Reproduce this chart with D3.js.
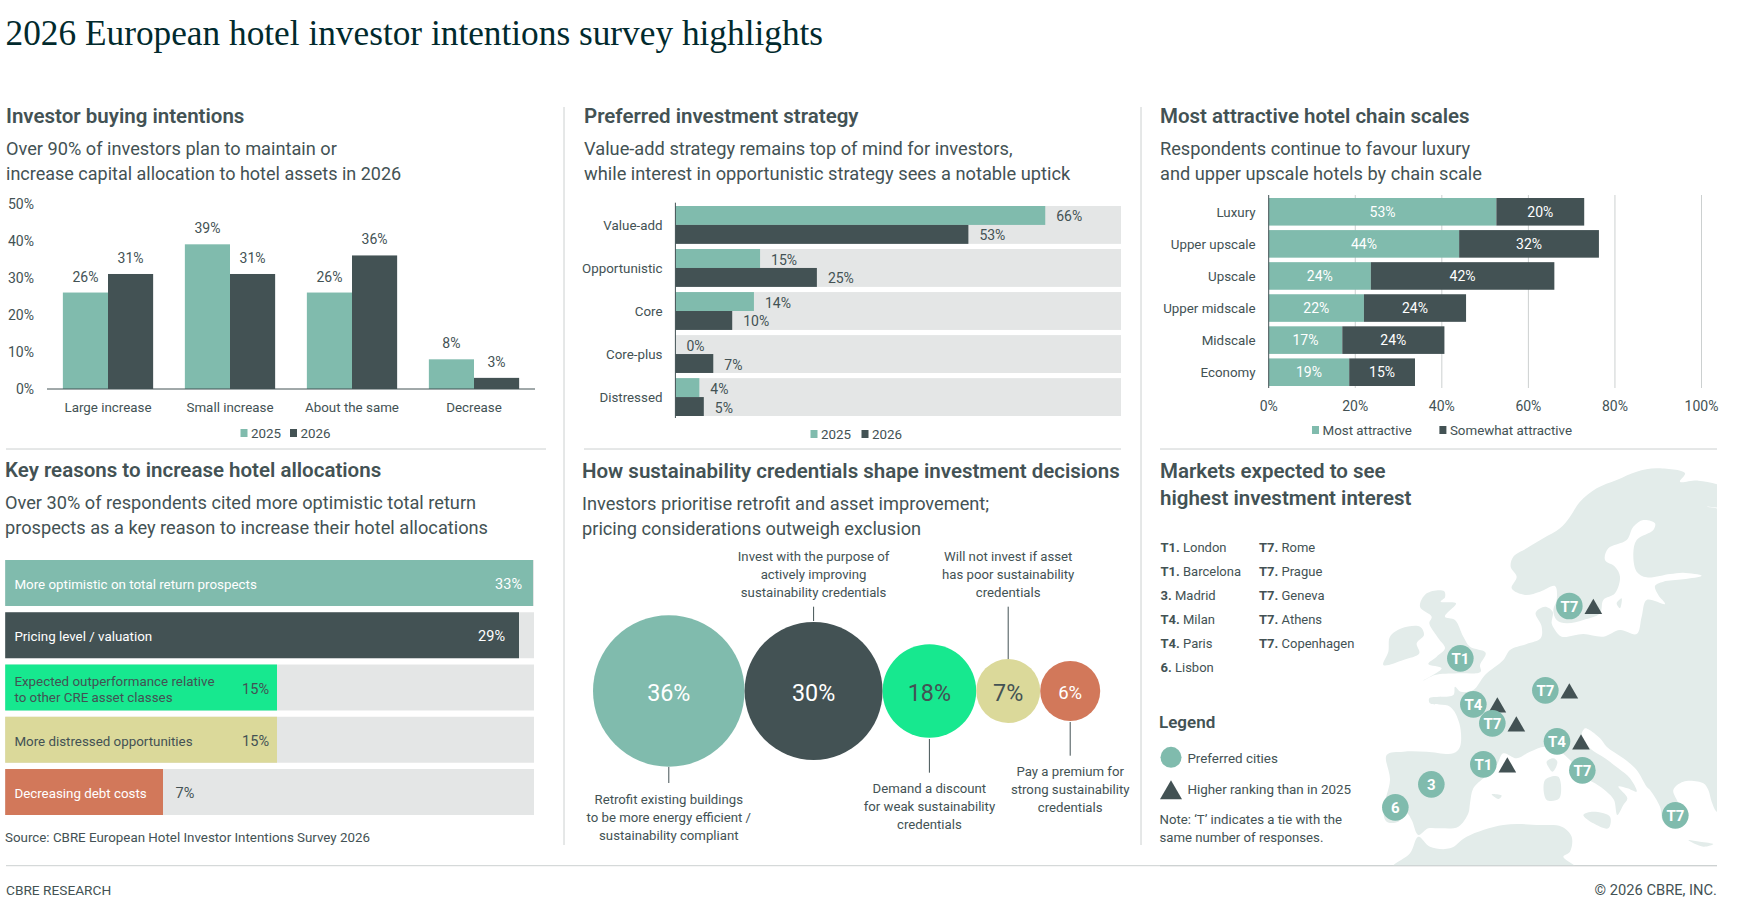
<!DOCTYPE html>
<html>
<head>
<meta charset="utf-8"/>
<script src="https://cdn.jsdelivr.net/npm/d3@7"></script>
<style>
  html, body { margin: 0; padding: 0; background: #fff; }
  svg { display: block; }
  text { font-family: Roboto, sans-serif; fill: #435254; }
</style>
</head>
<body>
<svg id="page" width="1737" height="903"></svg>
<script>
// values
var years = ["2025", "2026"];
var buyCats = ["Large increase", "Small increase", "About the same", "Decrease"];
var buy2025 = [26, 39, 26, 8];
var buy2026 = [31, 31, 36, 3];
var buyTicks = [0, 10, 20, 30, 40, 50];

var stratCats = ["Value-add", "Opportunistic", "Core", "Core-plus", "Distressed"];
var strat2025 = [66.4, 15.2, 14.1, 0, 4.3];
var strat2026 = [52.6, 25.4, 10.2, 6.8, 5.1];

var chainCats = ["Luxury", "Upper upscale", "Upscale", "Upper midscale", "Midscale", "Economy"];
var chainMost = [52.6, 44, 23.6, 22, 17, 18.6];
var chainSome = [20.3, 32.3, 42.4, 23.6, 23.6, 15.2];
var chainTicks = [0, 20, 40, 60, 80, 100];
var chainKeys = ["Most attractive", "Somewhat attractive"];

var reasonLabels = [["More optimistic on total return prospects"], ["Pricing level / valuation"],
  ["Expected outperformance relative", "to other CRE asset classes"], ["More distressed opportunities"], ["Decreasing debt costs"]];
var reasonValues = [33, 29, 15, 15, 7];

var sustValues = [36, 30, 18, 7, 6];
var sustLabels = [
  ["Retrofit existing buildings", "to be more energy efficient /", "sustainability compliant"],
  ["Invest with the purpose of", "actively improving", "sustainability credentials"],
  ["Demand a discount", "for weak sustainability", "credentials"],
  ["Will not invest if asset", "has poor sustainability", "credentials"],
  ["Pay a premium for", "strong sustainability", "credentials"]];

var rankCol1 = [["T1.", "London"], ["T1.", "Barcelona"], ["3.", "Madrid"], ["T4.", "Milan"], ["T4.", "Paris"], ["6.", "Lisbon"]];
var rankCol2 = [["T7.", "Rome"], ["T7.", "Prague"], ["T7.", "Geneva"], ["T7.", "Athens"], ["T7.", "Copenhagen"]];

// map, in map grid units
var mapMainland = [[1060,85],[1060,140],[1012,140],[1060,158],[1060,1060],[1040,1055],[1025,1025],[1015,990],[1000,970],[940,965],[910,990],[925,1030],[935,1070],[910,1100],[880,1085],[870,1040],[840,990],[830,980],[800,930],[760,895],[710,860],[690,835],[655,808],[645,805],[635,825],[660,865],[705,895],[745,925],[780,955],[800,995],[772,985],[745,980],[772,1015],[760,1035],[742,1065],[732,1020],[710,995],[675,970],[640,950],[600,900],[570,875],[525,860],[480,875],[440,895],[400,880],[380,915],[345,950],[310,985],[300,1030],[295,1060],[265,1100],[210,1105],[175,1105],[145,1125],[125,1080],[110,1060],[85,1085],[50,1085],[40,1050],[60,960],[50,885],[100,875],[170,875],[250,880],[270,860],[268,790],[240,740],[180,730],[178,715],[250,705],[255,680],[272,695],[310,690],[345,645],[400,600],[420,570],[470,552],[512,535],[515,500],[497,458],[525,440],[548,455],[545,490],[555,510],[575,530],[640,522],[700,530],[750,510],[800,522],[815,470],[830,420],[885,432],[865,405],[855,378],[880,365],[940,358],[995,347],[940,338],[900,342],[830,352],[800,335],[790,280],[800,240],[850,210],[855,190],[820,180],[790,200],[770,240],[715,265],[705,300],[735,320],[750,350],[735,400],[700,420],[690,460],[640,480],[590,490],[560,480],[550,450],[560,420],[555,378],[510,395],[465,405],[425,385],[440,350],[422,320],[430,290],[470,265],[520,235],[570,205],[600,170],[630,125],[680,85],[740,60],[800,35],[860,25],[945,40],[930,65],[985,62]];
var mapBritain = [[170,400],[222,393],[225,412],[212,425],[258,430],[225,470],[255,480],[280,530],[300,560],[347,578],[330,615],[332,635],[262,640],[195,645],[160,662],[215,625],[175,612],[200,590],[225,565],[205,535],[178,490],[185,470],[150,440]];
var mapIreland = [[60,530],[95,505],[150,500],[162,525],[140,550],[148,580],[100,600],[40,615],[55,575]];
var mapAfrica = [[65,1225],[120,1180],[145,1130],[180,1160],[240,1165],[290,1130],[400,1095],[510,1095],[575,1100],[605,1130],[600,1175],[580,1190],[620,1225]];
var mapIslands = [
  [[530,905],[550,895],[562,905],[548,935],[535,920]],
  [[525,960],[565,950],[568,1015],[530,1020]],
  [[640,1065],[670,1055],[720,1070],[715,1105],[670,1090]],
  [[365,1003],[395,1007],[385,1017]],
  [[955,1140],[990,1145],[1030,1152],[1000,1160]],
  [[740,430],[755,415],[750,445]]];
var mapPins = [
  {label: "T7", x: 598, y: 438, up: true},
  {label: "T1", x: 271, y: 595, up: false},
  {label: "T4", x: 310, y: 733, up: true},
  {label: "T7", x: 367, y: 790, up: true},
  {label: "T7", x: 526, y: 691, up: true},
  {label: "T4", x: 561, y: 844, up: true},
  {label: "T7", x: 637, y: 931, up: false},
  {label: "T1", x: 340, y: 913, up: true},
  {label: "3", x: 184, y: 973, up: false},
  {label: "6", x: 76, y: 1042, up: false},
  {label: "T7", x: 916, y: 1066, up: false}];

var teal = "#80bbad", dark = "#435254", green = "#17e88f", wheat = "#dbd99a", clay = "#d2785a";
var track = "#e4e6e6", rule = "#ccd0d0", land = "#e3ecea";
var small = 13.35, num = 14;

var svg = d3.select("#page");

function txt(x, y, s, size, anchor, color, weight) {
  return svg.append("text").attr("x", x).attr("y", y).text(s)
    .style("font-size", size + "px")
    .attr("text-anchor", anchor || "start")
    .style("fill", color || dark)
    .style("font-weight", weight || 400);
}
function hline(x1, x2, y, color) {
  svg.append("line").attr("x1", x1).attr("x2", x2).attr("y1", y).attr("y2", y).attr("stroke", color || rule);
}
function vline(x, y1, y2, color) {
  svg.append("line").attr("x1", x).attr("x2", x).attr("y1", y1).attr("y2", y2).attr("stroke", color || rule);
}
function heading(x, y, s) { return txt(x, y, s, 20.5, "start", dark, 600); }
function legend(y, items) {
  items.forEach(function(d) {
    svg.append("rect").attr("x", d.x).attr("y", y - 4).attr("width", 7).attr("height", 8).attr("fill", d.color);
    txt(d.x + 10.5, y + 5, d.label, small);
  });
}

// title and frame
txt(5.5, 45, "2026 European hotel investor intentions survey highlights", 35.3, "start", "#012a2d")
  .style("font-family", "'Liberation Serif', serif");
vline(564, 107, 845);
vline(1141, 107, 845);
hline(6, 546, 449);
hline(584, 1121, 449);
hline(1160, 1717, 449);
hline(6, 1717, 865.7);
txt(6, 895, "CBRE RESEARCH", 13.7);
txt(1717, 895, "© 2026 CBRE, INC.", 14.7, "end");

// Investor buying intentions
heading(6, 122.7, "Investor buying intentions");
txt(6, 155, "Over 90% of investors plan to maintain or", 18.2);
txt(6, 180, "increase capital allocation to hotel assets in 2026", 18);

var buyX = d3.scaleBand().domain(buyCats).range([47, 535]).paddingInner(0.26).paddingOuter(0.13);
var buyY = d3.scaleLinear().domain([0, 50]).range([389, 203.5]);
var buySub = d3.scaleBand().domain(years).range([0, buyX.bandwidth()]);

var buyG = svg.append("g").selectAll("g").data(buyCats).join("g")
  .attr("transform", function(d) { return "translate(" + buyX(d) + ",0)"; });
[[buy2025, teal, "2025"], [buy2026, dark, "2026"]].forEach(function(s) {
  buyG.append("rect")
    .attr("x", buySub(s[2])).attr("width", buySub.bandwidth())
    .attr("y", function(d, i) { return buyY(s[0][i]); })
    .attr("height", function(d, i) { return buyY(0) - buyY(s[0][i]); })
    .attr("fill", s[1]);
  buyG.append("text")
    .attr("x", buySub(s[2]) + buySub.bandwidth() / 2)
    .attr("y", function(d, i) { return buyY(s[0][i]) - 11; })
    .attr("text-anchor", "middle").style("font-size", num + "px")
    .text(function(d, i) { return s[0][i] + "%"; });
});
hline(47, 535, 389, dark);
buyTicks.forEach(function(t) { txt(34, buyY(t) + 5, t + "%", num, "end"); });
buyCats.forEach(function(c) { txt(buyX(c) + buyX.bandwidth() / 2, 411.5, c, small, "middle"); });
legend(433, [{x: 240.5, color: teal, label: "2025"}, {x: 290, color: dark, label: "2026"}]);

// Preferred investment strategy
heading(584, 122.7, "Preferred investment strategy");
txt(584, 155, "Value-add strategy remains top of mind for investors,", 18.25);
txt(584, 180, "while interest in opportunistic strategy sees a notable uptick", 18.25);

var stratX = d3.scaleLinear().domain([0, 80]).range([675.4, 1121]);
var stratY = d3.scaleBand().domain(stratCats).range([206, 416]).paddingInner(0.12);
stratCats.forEach(function(c, i) {
  var y = stratY(c), h = stratY.bandwidth();
  svg.append("rect").attr("x", stratX(0)).attr("y", y).attr("width", stratX(80) - stratX(0)).attr("height", h).attr("fill", track);
  svg.append("rect").attr("x", stratX(0)).attr("y", y).attr("width", stratX(strat2025[i]) - stratX(0)).attr("height", h / 2).attr("fill", teal);
  svg.append("rect").attr("x", stratX(0)).attr("y", y + h / 2).attr("width", stratX(strat2026[i]) - stratX(0)).attr("height", h / 2).attr("fill", dark);
  txt(stratX(strat2025[i]) + 11, y + h / 4 + 6, Math.round(strat2025[i]) + "%", num);
  txt(stratX(strat2026[i]) + 11, y + 3 * h / 4 + 6, Math.round(strat2026[i]) + "%", num);
  txt(662.5, y + h / 2 + 5, c, small, "end");
});
vline(675.4, 202.7, 418, dark);
legend(434, [{x: 810.5, color: teal, label: "2025"}, {x: 861.5, color: dark, label: "2026"}]);

// Most attractive hotel chain scales
heading(1160, 122.7, "Most attractive hotel chain scales");
txt(1160, 155, "Respondents continue to favour luxury", 18.2);
txt(1160, 180, "and upper upscale hotels by chain scale", 18.2);

var chainX = d3.scaleLinear().domain([0, 100]).range([1268.7, 1701.5]);
var chainY = d3.scaleBand().domain(chainCats).range([198, 386]).paddingInner(0.14);
chainTicks.forEach(function(t) {
  if (t > 0) vline(chainX(t), 195, 388);
  txt(chainX(t), 411, t + "%", num, "middle");
});
chainCats.forEach(function(c, i) {
  var y = chainY(c), h = chainY.bandwidth();
  var a = chainMost[i], b = chainSome[i];
  svg.append("rect").attr("x", chainX(0)).attr("y", y).attr("width", chainX(a) - chainX(0)).attr("height", h).attr("fill", teal);
  svg.append("rect").attr("x", chainX(a)).attr("y", y).attr("width", chainX(a + b) - chainX(a)).attr("height", h).attr("fill", dark);
  txt(chainX(a / 2), y + h / 2 + 5, Math.round(a) + "%", num, "middle", "#fff");
  txt(chainX(a + b / 2), y + h / 2 + 5, Math.round(b) + "%", num, "middle", "#fff");
  txt(1255.6, y + h / 2 + 5, c, small, "end");
});
vline(1268.7, 195, 388, dark);
legend(430, [{x: 1312, color: teal, label: chainKeys[0]}, {x: 1439.4, color: dark, label: chainKeys[1]}]);

// Key reasons to increase hotel allocations
heading(5, 477, "Key reasons to increase hotel allocations");
txt(5, 509, "Over 30% of respondents cited more optimistic total return", 18.2);
txt(5, 534, "prospects as a key reason to increase their hotel allocations", 18.2);

// the bars in the picture are not drawn strictly to scale, so this scale has one piece per value
var reasonX = d3.scaleLinear().domain([0, 7, 15, 29, 33]).range([5.2, 163, 277, 519, 533]);
var reasonY = d3.scaleBand().domain(d3.range(5)).range([560, 815]).paddingInner(0.12);
var reasonFill = [teal, dark, green, wheat, clay];
var reasonInk = ["#fff", "#fff", dark, dark, "#fff"];
var reasonPad = [11, 14, 8, 8];
reasonValues.forEach(function(v, i) {
  var y = reasonY(i), h = reasonY.bandwidth();
  svg.append("rect").attr("x", reasonX(0)).attr("y", y).attr("width", 534 - reasonX(0)).attr("height", h).attr("fill", track);
  svg.append("rect").attr("x", reasonX(0)).attr("y", y).attr("width", reasonX(v) - reasonX(0)).attr("height", h).attr("fill", reasonFill[i]);
  reasonLabels[i].forEach(function(l, j) {
    txt(14.4, y + h / 2 + 6 + (j - (reasonLabels[i].length - 1) / 2) * 16, l, small, "start", reasonInk[i]);
  });
  if (v < 10) txt(reasonX(v) + 12.6, y + h / 2 + 6, v + "%", num + 0.5);
  else txt(reasonX(v) - reasonPad[i], y + h / 2 + 6, v + "%", num + 0.5, "end", reasonInk[i]);
});
txt(5, 841.7, "Source: CBRE European Hotel Investor Intentions Survey 2026", small);

// How sustainability credentials shape investment decisions
heading(582, 477.6, "How sustainability credentials shape investment decisions");
txt(582, 510, "Investors prioritise retrofit and asset improvement;", 18.2);
txt(582, 535, "pricing considerations outweigh exclusion", 18.2);

var sustR = d3.scaleSqrt().domain([0, 6, 7, 18, 30, 36]).range([0, 30, 32, 46.8, 69, 75.8]);
var sustFill = [teal, dark, green, wheat, clay];
var sustInk = ["#fff", "#fff", dark, dark, "#fff"];
var sustCy = 691;
// leader ends above or below the bubble, and the baseline of the first caption line
var sustLead = [[767, 783, 804], [606.7, 621, 561], [739, 772.7, 793], [606.7, 659, 561], [722, 755.7, 776]];
var edge = 593;
sustValues.forEach(function(v, i) {
  var r = sustR(v), cx = edge + r;
  edge = cx + r;
  svg.append("circle").attr("cx", cx).attr("cy", sustCy).attr("r", r).attr("fill", sustFill[i]);
  txt(cx, sustCy + (v == 6 ? 8 : 10), v + "%", v == 6 ? 18.5 : 23.3, "middle", sustInk[i]);
  vline(cx, sustLead[i][0], sustLead[i][1], dark);
  sustLabels[i].forEach(function(l, j) {
    txt(cx, sustLead[i][2] + j * 18, l, 13.2, "middle");
  });
});

// Markets expected to see highest investment interest
var mapX = d3.scaleLinear().domain([0, 1101]).range([1370, 1737]);
var mapY = d3.scaleLinear().domain([0, 1230]).range([460, 870]);
var mapLine = d3.line().x(function(d) { return mapX(d[0]); }).y(function(d) { return mapY(d[1]); })
  .curve(d3.curveCatmullRomClosed.alpha(0.5));
svg.append("clipPath").attr("id", "mapclip").append("rect")
  .attr("x", 1370).attr("y", 460).attr("width", 347).attr("height", 405.7);
var mapG = svg.append("g").attr("clip-path", "url(#mapclip)");
[mapMainland, mapBritain, mapIreland, mapAfrica].concat(mapIslands).forEach(function(p) {
  mapG.append("path").attr("d", mapLine(p)).attr("fill", land);
});
hline(1160, 1717, 865.7);

heading(1160, 477.6, "Markets expected to see");
heading(1160, 504.6, "highest investment interest");

function rankList(rows, x) {
  rows.forEach(function(r, i) {
    var t = txt(x, 552.3 + i * 24, "", 13);
    t.append("tspan").style("font-weight", 700).text(r[0] + " ");
    t.append("tspan").text(r[1]);
  });
}
rankList(rankCol1, 1160.5);
rankList(rankCol2, 1259);

txt(1159, 728, "Legend", 17, "start", dark, 600);
svg.append("circle").attr("cx", 1171).attr("cy", 757.3).attr("r", 10.5).attr("fill", teal);
txt(1187.4, 763.3, "Preferred cities", 13.4);
svg.append("path").attr("d", d3.symbol(d3.symbolTriangle, 210)()).attr("transform", "translate(1171,793)").attr("fill", dark);
txt(1187.4, 794.3, "Higher ranking than in 2025", 13.4);
txt(1159.5, 824.3, "Note: ‘T’ indicates a tie with the", 13.2);
txt(1159.5, 842.3, "same number of responses.", 13.2);

var triangle = d3.symbol(d3.symbolTriangle, 135)();
mapPins.forEach(function(d) {
  var x = mapX(d.x), y = mapY(d.y);
  svg.append("circle").attr("cx", x).attr("cy", y).attr("r", 13.3).attr("fill", teal);
  txt(x, y + 5.5, d.label, 15, "middle", "#fff", 700);
  if (d.up) svg.append("path").attr("d", triangle).attr("transform", "translate(" + (x + 24) + "," + (y + 3) + ")").attr("fill", dark);
});
</script>
</body>
</html>
